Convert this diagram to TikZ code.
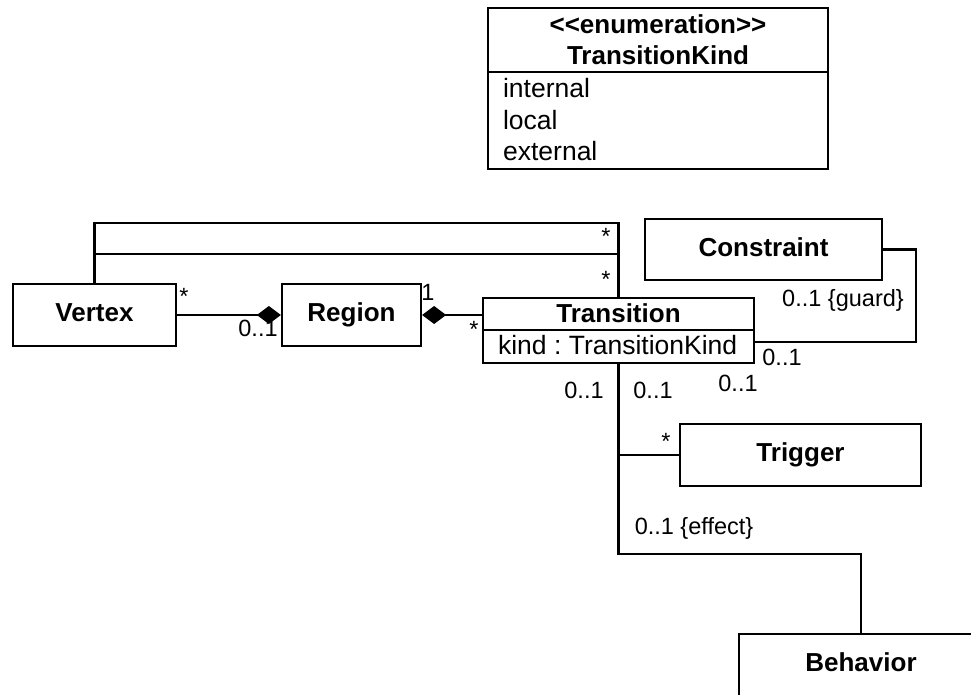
\documentclass[tikz,border=0pt]{standalone}
\usepackage{fontspec}
\setmainfont{Liberation Sans}
\usetikzlibrary{arrows.meta}
\begin{document}
\begin{tikzpicture}[x=1pt,y=-1pt, line width=2.2pt,
  cls/.style={draw, rectangle, inner sep=0pt, text height=18pt, text depth=5pt, font=\fontsize{26}{31}\selectfont\bfseries},
  ttl/.style={inner sep=0pt, font=\fontsize{26}{31}\selectfont\bfseries},
  lbl/.style={inner sep=0pt, font=\fontsize{23.5}{28}\selectfont},
  txt/.style={inner sep=0pt, font=\fontsize{26.5}{31}\selectfont\frenchspacing},
  dtip/.tip={Diamond[length=24pt,width=18pt]}]
\useasboundingbox (0,0) rectangle (971,694);
% enumeration
\node[draw, rectangle, minimum width=340pt, minimum height=161pt] (en) at (658,88.5) {};
\draw (en.west |- 0,72) -- (en.east |- 0,72);
\node[ttl, anchor=base] (en1) at (658,33) {{<}{<}enumeration{>}{>}};
\node[ttl, anchor=base] (en2) at (658,64) {TransitionKind};
\node[txt, anchor=base west] (ei1) at (502,97) {internal};
\node[txt, anchor=base west] (ei2) at (502,129) {local};
\node[txt, anchor=base west] (ei3) at (502,160) {external};
% classes
\node[cls, minimum width=163pt, minimum height=62pt] (vx) at (94.5,315) {Vertex};
\node[cls, minimum width=139pt, minimum height=62pt] (rg) at (351.5,315) {Region};
\node[cls, minimum width=237pt, minimum height=61pt] (cn) at (763.5,249.5) {Constraint};
\node[cls, minimum width=241pt, minimum height=62pt] (tg) at (800.5,455) {Trigger};
\node[cls, minimum width=244pt, minimum height=62pt] (bh) at (861,665) {Behavior};
\node[draw, rectangle, minimum width=271pt, minimum height=65pt] (tr) at (618.5,330.5) {};
\draw (tr.west |- 0,330) -- (tr.east |- 0,330);
\node[ttl, anchor=base] (trt) at (618.5,322) {Transition};
\node[txt, anchor=base west] (tra) at (497,354) {kind : TransitionKind};
% connectors
\draw[-dtip] (vx.east) -- (rg.west);
\draw[dtip-] (rg.east) -- (rg.east -| tr.west);
\draw (vx.north) -- (vx.north |- 0,223) -| (tr.north);
\draw (vx.north |- 0,254) -- (tr.north |- 0,254);
\draw (cn.east) -| (916,342) -- (tr.east |- 0,342);
\draw (tr.south) -- (tr.south |- 0,554) -| (bh.north);
\draw (tr.south |- tg.west) -- (tg.west);
% labels
\node[lbl] (l1) at (184,296) {*};
\node[lbl] (l2) at (258,328) {0..1};
\node[lbl] (l3) at (428,292) {1};
\node[lbl] (l4) at (474,329) {*};
\node[lbl] (l5) at (606,236) {*};
\node[lbl] (l6) at (606,279) {*};
\node[lbl] (l7) at (843,300) {0..1 \{guard\}};
\node[lbl] (l8) at (782,357) {0..1};
\node[lbl] (l9) at (738,383) {0..1};
\node[lbl] (l10) at (584,390) {0..1};
\node[lbl] (l11) at (653,390) {0..1};
\node[lbl] (l12) at (666,441) {*};
\node[lbl] (l13) at (694,528) {0..1 \{effect\}};
\end{tikzpicture}
\end{document}
